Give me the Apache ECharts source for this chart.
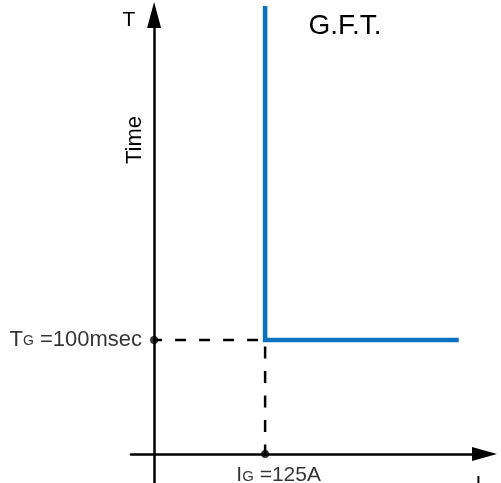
<!DOCTYPE html>
<html><head><meta charset="utf-8">
<script src="https://cdn.jsdelivr.net/npm/echarts@6/dist/echarts.min.js"></script>
<style>html,body{margin:0;padding:0;background:#fff}#c{width:501px;height:483px}</style>
</head><body><div id="c"></div>
<script>
// G.F.T. characteristic (current in A, time in msec)
const curveCurrent = [125, 125, 343];
const curveTime = [393, 100, 100];
// pickup setting
const settingCurrent = 125;   // IG
const settingTime = 100;      // TG
const xRange = [-26, 372];
const yRange = [-25.5, 385];
const tgLabel = ['T', 'G', ' =100msec'];
const igLabel = ['I', 'G', ' =125A'];

const FONT = '"Liberation Sans", Arial, Helvetica, sans-serif';
const BLUE = '#0a70c0';

const chart = echarts.init(document.getElementById('c'), null, {renderer: 'canvas'});

const axisCommon = {
  type: 'value',
  axisTick: {show: false},
  axisLabel: {show: false},
  splitLine: {show: false}
};

const option = {
  animation: false,
  backgroundColor: '#ffffff',
  textStyle: {fontFamily: FONT},
  grid: {left: 131, right: 16.5, top: 15, bottom: 0, containLabel: false},
  xAxis: Object.assign({}, axisCommon, {
    min: xRange[0], max: xRange[1],
    axisLine: {show: true, onZero: true, symbol: ['none', 'triangle'], symbolSize: [14, 25],
      lineStyle: {color: '#000', width: 2.5}}
  }),
  yAxis: Object.assign({}, axisCommon, {
    min: yRange[0], max: yRange[1],
    axisLine: {show: true, onZero: true, symbol: ['none', 'triangle'], symbolSize: [14, 26],
      lineStyle: {color: '#000', width: 2.5}}
  }),
  series: [
    {
      type: 'line', silent: true, symbol: 'none', z: 2,
      data: [[0, settingTime], [settingCurrent, settingTime]],
      lineStyle: {color: '#000', width: 2.5, type: [11, 13], dashOffset: 3}
    },
    {
      type: 'line', silent: true, symbol: 'none', z: 2,
      data: [[settingCurrent, settingTime], [settingCurrent, 0]],
      lineStyle: {color: '#000', width: 2.5, type: [12, 12.5], dashOffset: 18}
    },
    {
      name: 'G.F.T.', type: 'line', silent: true, symbol: 'none', z: 3, clip: false,
      data: curveCurrent.map((c, i) => [c, curveTime[i]]),
      lineStyle: {color: BLUE, width: 4.5, join: 'miter', cap: 'butt'}
    },
    {
      type: 'scatter', silent: true, z: 4, symbol: 'circle', symbolSize: 8,
      itemStyle: {color: '#000'},
      data: [
        {value: [0, settingTime], label: {
          show: true, position: 'left', distance: 8,
          formatter: '{a|' + tgLabel[0] + '}{b|' + tgLabel[1] + '}{a|' + tgLabel[2] + '}',
          rich: {
            a: {fontSize: 22, fontFamily: FONT, color: '#000', verticalAlign: 'bottom', height: 22},
            b: {fontSize: 14, fontFamily: FONT, color: '#000', verticalAlign: 'bottom', height: 19}
          }
        }},
        {value: [settingCurrent, 0], label: {
          show: true, position: 'bottom', distance: 7, offset: [13.5, 0],
          formatter: '{a|' + igLabel[0] + '}{b|' + igLabel[1] + '}{a|' + igLabel[2] + '}',
          rich: {
            a: {fontSize: 21, fontFamily: FONT, color: '#000', verticalAlign: 'bottom', height: 21},
            b: {fontSize: 15, fontFamily: FONT, color: '#000', verticalAlign: 'bottom', height: 19}
          }
        }}
      ]
    }
  ],
  graphic: [
    {type: 'text', x: 129, y: 20, style: {text: 'T', font: '21px ' + FONT, fill: '#000', align: 'center', verticalAlign: 'middle'}},
    {type: 'text', x: 135, y: 140, rotation: Math.PI / 2, style: {text: 'Time', font: '22px ' + FONT, fill: '#000', align: 'center', verticalAlign: 'middle'}},
    {type: 'text', x: 345, y: 26, style: {text: 'G.F.T.', font: '28px ' + FONT, fill: '#000', align: 'center', verticalAlign: 'middle'}},
    {type: 'text', x: 478.5, y: 484, style: {text: 'I', font: '21px ' + FONT, fill: '#000', align: 'center', verticalAlign: 'middle'}}
  ]
};
chart.setOption(option);
</script>
</body></html>
